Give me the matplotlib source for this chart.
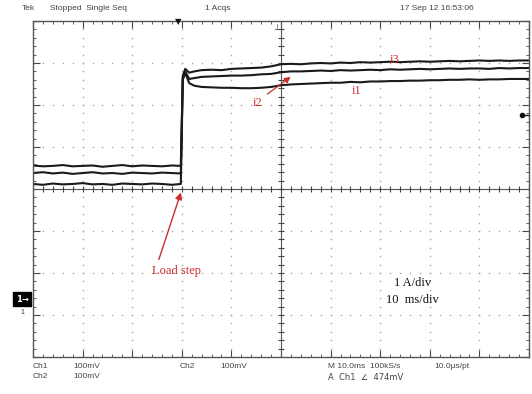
import matplotlib
matplotlib.use("Agg")
import matplotlib.pyplot as plt
import numpy as np

# ---- data (time in ms, current in A; screen centre = 0 A) ----
t = [0, 2, 4, 6, 8, 10, 12, 14, 16, 18, 20, 22, 24, 26, 28, 29.8,
     30.2, 30.7, 31.5, 32.5, 34, 36, 38, 40, 42, 44, 46, 48, 50, 52, 54, 56,
     58, 60, 62, 64, 66, 68, 70, 72, 74, 76, 78, 80, 82, 84, 86, 88, 90, 92,
     94, 96, 98, 100]

i3 = [0.56, 0.54, 0.55, 0.57, 0.54, 0.55, 0.56, 0.53, 0.55, 0.57, 0.54, 0.56, 0.55, 0.54, 0.56, 0.55,
      2.70, 2.86, 2.77, 2.80, 2.83, 2.84, 2.83, 2.86, 2.87, 2.88, 2.89, 2.92, 2.97, 2.98, 2.97, 2.99,
      3.00, 2.99, 3.01, 3.00, 3.02, 3.01, 3.02, 3.03, 3.02, 3.03, 3.04, 3.03, 3.04, 3.05, 3.04, 3.05, 3.06, 3.05,
      3.06, 3.05, 3.06, 3.06]

i2 = [0.38, 0.40, 0.37, 0.39, 0.36, 0.38, 0.40, 0.37, 0.38, 0.36, 0.39, 0.38, 0.37, 0.39, 0.38, 0.37,
      2.65, 2.80, 2.62, 2.64, 2.67, 2.68, 2.69, 2.70, 2.70, 2.71, 2.73, 2.74, 2.78, 2.80, 2.80, 2.81,
      2.82, 2.81, 2.83, 2.82, 2.83, 2.84, 2.83, 2.85, 2.84, 2.85, 2.86, 2.85, 2.86, 2.87, 2.86, 2.87, 2.87, 2.86,
      2.88, 2.87, 2.88, 2.88]

i1 = [0.12, 0.10, 0.13, 0.11, 0.12, 0.14, 0.11, 0.12, 0.10, 0.13, 0.12, 0.11, 0.13, 0.12, 0.10, 0.12,
      2.60, 2.76, 2.52, 2.46, 2.43, 2.42, 2.41, 2.41, 2.40, 2.40, 2.41, 2.43, 2.47, 2.49, 2.50, 2.51,
      2.52, 2.53, 2.53, 2.55, 2.54, 2.56, 2.56, 2.57, 2.57, 2.58, 2.58, 2.59, 2.59, 2.60, 2.60, 2.61, 2.60, 2.61,
      2.61, 2.62, 2.62, 2.62]

labels = ["i3", "i2", "i1"]

fig = plt.figure(figsize=(5.32, 3.94), dpi=100)
ax = fig.add_axes([33/532, 1-357/394, (529-33)/532, (357-21)/394])
ax.set_xlim(0, 100)
ax.set_ylim(-4, 4)

grid_c = "#a8a8a8"
# dotted graticule
for gx in range(10, 100, 10):
    if gx == 50:
        continue
    yy = np.arange(-4, 4.001, 0.2)
    ax.plot([gx]*len(yy), yy, ls="", marker="s", ms=1.0, mfc=grid_c, mec="none")
for gy in range(-3, 4):
    if gy == 0:
        continue
    xx = np.arange(0, 100.001, 2)
    ax.plot(xx, [gy]*len(xx), ls="", marker="s", ms=1.0, mfc=grid_c, mec="none")

# centre cross with ticks
ax.axhline(0, color="#555555", lw=0.8)
ax.axvline(50, color="#555555", lw=0.8)
xx = np.arange(0, 100.001, 2)
ax.plot(xx, [0]*len(xx), ls="", marker="|", ms=4, mec="#444444", mew=0.8)
yy = np.arange(-4, 4.001, 0.2)
ax.plot([50]*len(yy), yy, ls="", marker="_", ms=4, mec="#444444", mew=0.8)

# frame
for s in ax.spines.values():
    s.set_color("#555555")
    s.set_linewidth(1.0)
ax.set_xticks(np.arange(0, 101, 10))
ax.set_xticks(np.arange(0, 101, 2), minor=True)
ax.set_yticks(np.arange(-4, 4.01, 1))
ax.set_yticks(np.arange(-4, 4.01, 0.2), minor=True)
ax.tick_params(which="both", direction="in", top=True, right=True,
               labelbottom=False, labelleft=False, color="#444444")
ax.tick_params(which="major", length=5, width=0.8)
ax.tick_params(which="minor", length=2.5, width=0.6)

# traces
for y in (i3, i2, i1):
    ax.plot(t, y, color="#1a1a1a", lw=1.5, solid_joinstyle="round")

red = "#cc2b2b"
ax.text(73, 2.92, labels[0], color=red, fontsize=9, family="Liberation Serif", ha="center", va="bottom")
ax.text(65.3, 2.33, labels[2], color=red, fontsize=9, family="Liberation Serif", ha="center", va="center")
ax.text(45.2, 2.05, labels[1], color=red, fontsize=9, family="Liberation Serif", ha="center", va="center")
ax.annotate("", xy=(52.4, 2.71), xytext=(46.8, 2.22),
            arrowprops=dict(arrowstyle="-|>", color=red, lw=0.9, mutation_scale=9))
ax.annotate("", xy=(30.0, -0.02), xytext=(25.2, -1.74),
            arrowprops=dict(arrowstyle="-|>", color=red, lw=1.0, mutation_scale=10))
ax.text(29, -1.95, "Load step", color=red, fontsize=9, family="Liberation Serif", ha="center", va="center")

ax.text(76.6, -2.24, "1 A/div", color="#111111", fontsize=9, family="Liberation Serif", ha="center", va="center")
ax.text(76.4, -2.64, "10  ms/div", color="#111111", fontsize=9, family="Liberation Serif", ha="center", va="center")

# right trigger level marker
ax.plot([98.6], [1.76], ls="", marker="o", ms=3, color="#111111", clip_on=False)
ax.plot([99.0, 100], [1.76, 1.76], color="#111111", lw=1, clip_on=False)

# header / footer texts
hc = "#444444"
fs = 6
fig.text(22/532, 1-8/394, "Tek", fontsize=fs, color=hc, va="center", family="Liberation Sans")
fig.text(50/532, 1-8/394, "Stopped  Single Seq", fontsize=fs, color=hc, va="center", family="Liberation Sans")
fig.text(205/532, 1-8/394, "1 Acqs", fontsize=fs, color=hc, va="center", family="Liberation Sans")
fig.text(400/532, 1-8/394, "17 Sep 12 16:53:06", fontsize=fs, color=hc, va="center", family="Liberation Sans")

fig.text(33/532, 1-367/394, "Ch1", fontsize=fs, color=hc, va="center", family="Liberation Sans")
fig.text(73/532, 1-367/394, "100mV", fontsize=fs, color=hc, va="center", family="Liberation Sans")
fig.text(33/532, 1-377/394, "Ch2", fontsize=fs, color=hc, va="center", family="Liberation Sans")
fig.text(73/532, 1-377/394, "100mV", fontsize=fs, color=hc, va="center", family="Liberation Sans")
fig.text(180/532, 1-367/394, "Ch2", fontsize=fs, color=hc, va="center", family="Liberation Sans")
fig.text(220/532, 1-367/394, "100mV", fontsize=fs, color=hc, va="center", family="Liberation Sans")
fig.text(328/532, 1-367/394, "M 10.0ms  100kS/s", fontsize=fs, color=hc, va="center", family="Liberation Sans")
fig.text(434/532, 1-367/394, "10.0\u00b5s/pt", fontsize=fs, color=hc, va="center", family="Liberation Sans")
fig.text(328/532, 1-377/394, "A  Ch1  \u2220  474mV", fontsize=fs, color=hc, va="center", family="DejaVu Sans")

# trigger position marker (top) and centre marker
fig.text(178/532, 1-22/394, "\u25bc", fontsize=6, color="#111111", ha="center", va="center")
fig.text(277/532, 1-27/394, "\u22a5", fontsize=6, color="#333333", ha="center", va="center")
# channel ground marker
fig.text(22/532, 1-299/394, "1\u2192", fontsize=6, color="white", ha="center", va="center",
         family="DejaVu Sans", fontweight="bold",
         bbox=dict(boxstyle="square,pad=0.25", fc="black", ec="black"))
fig.text(22/532, 1-312/394, "1", fontsize=5, color="#333333", ha="center", va="center", family="Liberation Sans")

fig.savefig("out.png", dpi=100)
